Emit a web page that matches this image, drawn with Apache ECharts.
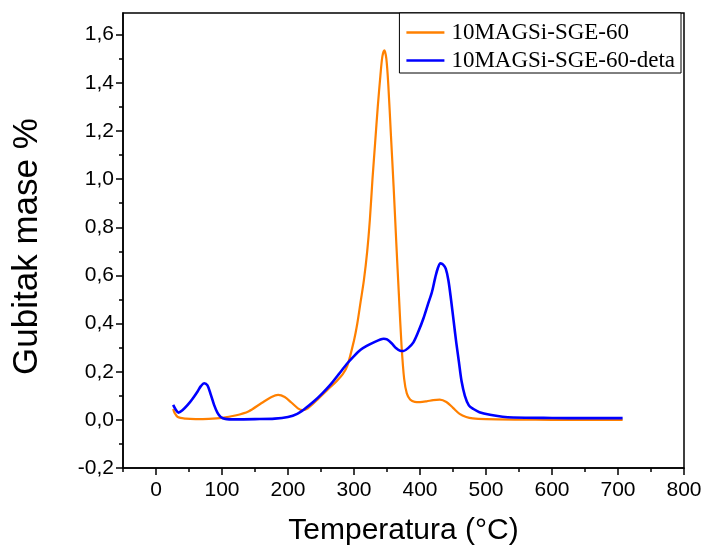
<!DOCTYPE html>
<html>
<head>
<meta charset="utf-8">
<script src="https://cdn.jsdelivr.net/npm/echarts@6/dist/echarts.min.js"></script>
<style>html,body{margin:0;padding:0;background:#fff;}#c{width:705px;height:551px;}</style>
</head>
<body>
<div id="c"></div>
<script>
// ---- data ----
const seriesNames = ['10MAGSi-SGE-60', '10MAGSi-SGE-60-deta'];
const orangeT = [26,28,33,45,60,80,100,120,140,160,175,185,195,205,215,222,230,245,260,275,283,290,300,305,310,315,320,324,328,332,336,340,343,346,349,352,356,360,364,368,372,376,380,385,392,400,410,420,430,440,450,460,470,480,500,550,600,650,707];
const orangeV = [0.045,0.03,0.012,0.005,0.003,0.004,0.008,0.018,0.035,0.07,0.095,0.104,0.095,0.072,0.048,0.04,0.048,0.085,0.125,0.165,0.19,0.225,0.33,0.4,0.49,0.58,0.7,0.83,1.0,1.15,1.3,1.43,1.51,1.535,1.5,1.39,1.18,0.97,0.74,0.52,0.31,0.17,0.11,0.085,0.075,0.074,0.077,0.082,0.084,0.074,0.05,0.025,0.012,0.006,0.003,0.001,0.0,0.0,0.0];
const blueT = [26,30,34,40,48,56,63,68,73,78,83,88,93,98,105,120,150,180,200,214,225,239,252,264,277,290,300,310,320,330,340,345,350,357,364,370,375,382,390,398,405,412,418,423,427,431,435,439,443,447,451,455,459,463,468,474,481,490,506,525,541,600,650,707];
const blueV = [0.062,0.042,0.03,0.04,0.062,0.09,0.118,0.14,0.152,0.143,0.105,0.062,0.03,0.012,0.004,0.002,0.003,0.005,0.012,0.025,0.045,0.076,0.11,0.145,0.19,0.235,0.265,0.291,0.308,0.322,0.334,0.337,0.334,0.318,0.297,0.287,0.286,0.298,0.322,0.37,0.42,0.48,0.53,0.59,0.63,0.65,0.645,0.628,0.58,0.5,0.41,0.32,0.24,0.16,0.1,0.06,0.045,0.032,0.021,0.013,0.01,0.008,0.007,0.007];
const xMajorTicks = [0,100,200,300,400,500,600,700,800];
const xMinorTicks = [-50,50,150,250,350,450,550,650,750];
const yMajorTicks = [-0.2,0,0.2,0.4,0.6,0.8,1.0,1.2,1.4,1.6];
const yMinorTicks = [-0.1,0.1,0.3,0.5,0.7,0.9,1.1,1.3,1.5];
const xRange = [-50, 800];
const yRange = [-0.2, 1.69];
const xTitle = 'Temperatura (°C)';
const yTitle = 'Gubitak mase %';

const pair = (a, b) => a.map((t, i) => [t, b[i]]);
const fmtY = v => (Math.round(v * 10) / 10).toFixed(1).replace('.', ',');

const chart = echarts.init(document.getElementById('c'), null, {renderer: 'canvas'});
const axisFont = {fontFamily: 'Liberation Sans, Arial, sans-serif', fontSize: 21, color: '#000'};
const lineStyle = {color: '#000', width: 1.5};

chart.setOption({
  animation: false,
  backgroundColor: '#fff',
  grid: {left: 123, right: 21, top: 13, bottom: 83, show: true, borderColor: '#000', borderWidth: 1.5, backgroundColor: 'transparent'},
  legend: {
    data: seriesNames.map(n => ({name: n, icon: 'rect'})),
    orient: 'vertical',
    right: 24, top: 13,
    borderColor: '#000', borderWidth: 1,
    backgroundColor: '#fff',
    padding: [8, 6, 1, 7],
    itemWidth: 38, itemHeight: 2.5, itemGap: 5,
    textStyle: {fontFamily: 'Liberation Serif, Times New Roman, serif', fontSize: 23, lineHeight: 23, color: '#000', padding: [0,0,0,2]}
  },
  xAxis: [{
    type: 'value', min: xRange[0], max: xRange[1],
    name: xTitle, nameLocation: 'middle', nameGap: 48,
    nameTextStyle: {fontFamily: 'Liberation Sans, Arial, sans-serif', fontSize: 30, color: '#000'},
    axisLine: {show: true, onZero: false, lineStyle: lineStyle},
    axisTick: {show: true, inside: false, length: 7, lineStyle: lineStyle, customValues: xMajorTicks},
    axisLabel: {show: true, margin: 12, customValues: xMajorTicks, ...axisFont},
    splitLine: {show: false}
  }, {
    type: 'value', min: xRange[0], max: xRange[1], position: 'bottom',
    axisLine: {show: false, onZero: false},
    axisTick: {show: true, inside: false, length: 4, lineStyle: lineStyle, customValues: xMinorTicks},
    axisLabel: {show: false},
    splitLine: {show: false}
  }],
  yAxis: [{
    type: 'value', min: yRange[0], max: yRange[1],
    name: yTitle, nameLocation: 'middle', nameGap: 78,
    nameTextStyle: {fontFamily: 'Liberation Sans, Arial, sans-serif', fontSize: 35, color: '#000', padding: [0, 12, 0, 0]},
    axisLine: {show: true, onZero: false, lineStyle: lineStyle},
    axisTick: {show: true, inside: false, length: 7, lineStyle: lineStyle, customValues: yMajorTicks},
    axisLabel: {show: true, margin: 9, customValues: yMajorTicks, formatter: fmtY, ...axisFont},
    splitLine: {show: false}
  }, {
    type: 'value', min: yRange[0], max: yRange[1], position: 'left',
    axisLine: {show: false, onZero: false},
    axisTick: {show: true, inside: false, length: 4, lineStyle: lineStyle, customValues: yMinorTicks},
    axisLabel: {show: false},
    splitLine: {show: false}
  }],
  series: [{
    name: seriesNames[0], type: 'line', data: pair(orangeT, orangeV),
    symbol: 'none', showSymbol: false, smooth: 0.3,
    lineStyle: {color: '#FF8000', width: 2.2}, itemStyle: {color: '#FF8000'}, z: 2
  }, {
    name: seriesNames[1], type: 'line', data: pair(blueT, blueV),
    symbol: 'none', showSymbol: false, smooth: 0.3,
    lineStyle: {color: '#0000FF', width: 2.6}, itemStyle: {color: '#0000FF'}, z: 3
  }]
});
</script>
</body>
</html>
